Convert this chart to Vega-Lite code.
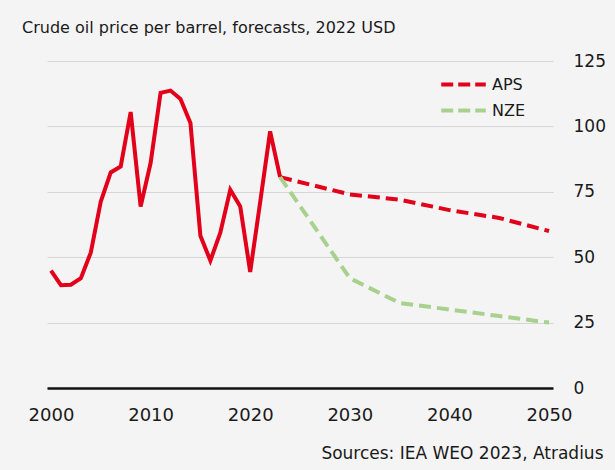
{
  "$schema": "https://vega.github.io/schema/vega-lite/v6.json",
  "width": 506,
  "height": 327,
  "autosize": {"type": "none"},
  "padding": {"left": 47, "top": 61, "right": 62, "bottom": 82},
  "background": "#f4f4f4",
  "title": {
    "text": "Crude oil price per barrel, forecasts, 2022 USD",
    "anchor": "start",
    "frame": "group",
    "dx": -25,
    "offset": 16,
    "font": "DejaVu Sans",
    "fontSize": 16,
    "fontWeight": "normal",
    "color": "#1a1a1a"
  },
  "datasets": {
    "hist": [
      {"year": 2000, "value": 44.9},
      {"year": 2001, "value": 39.3},
      {"year": 2002, "value": 39.5},
      {"year": 2003, "value": 42.0},
      {"year": 2004, "value": 51.8},
      {"year": 2005, "value": 71.3},
      {"year": 2006, "value": 82.4},
      {"year": 2007, "value": 84.7},
      {"year": 2008, "value": 105.5},
      {"year": 2009, "value": 69.4},
      {"year": 2010, "value": 86.0},
      {"year": 2011, "value": 112.8},
      {"year": 2012, "value": 113.7},
      {"year": 2013, "value": 110.5},
      {"year": 2014, "value": 101.3},
      {"year": 2015, "value": 58.2},
      {"year": 2016, "value": 48.7},
      {"year": 2017, "value": 59.4},
      {"year": 2018, "value": 75.8},
      {"year": 2019, "value": 69.4},
      {"year": 2020, "value": 44.4},
      {"year": 2021, "value": 71.0},
      {"year": 2022, "value": 98.1},
      {"year": 2023, "value": 80.6}
    ],
    "fc": [
      {"year": 2023, "value": 80.6, "series": "APS"},
      {"year": 2030, "value": 74.0, "series": "APS"},
      {"year": 2035, "value": 72.0, "series": "APS"},
      {"year": 2040, "value": 68.0, "series": "APS"},
      {"year": 2045, "value": 65.0, "series": "APS"},
      {"year": 2050, "value": 60.0, "series": "APS"},
      {"year": 2023, "value": 80.6, "series": "NZE"},
      {"year": 2030, "value": 42.0, "series": "NZE"},
      {"year": 2035, "value": 32.5, "series": "NZE"},
      {"year": 2040, "value": 30.0, "series": "NZE"},
      {"year": 2045, "value": 27.5, "series": "NZE"},
      {"year": 2050, "value": 25.0, "series": "NZE"}
    ]
  },
  "encoding": {
    "x": {
      "field": "year",
      "type": "quantitative",
      "scale": {"domain": [1999.6, 2050.4], "nice": false, "zero": false},
      "axis": {
        "values": [2000, 2010, 2020, 2030, 2040, 2050],
        "format": "d",
        "grid": false,
        "ticks": false,
        "domain": true,
        "domainColor": "#111111",
        "domainWidth": 2.5,
        "labelFlush": false,
        "labelPadding": 18,
        "labelFont": "DejaVu Sans",
        "labelFontSize": 18,
        "labelColor": "#1a1a1a",
        "title": "Sources: IEA WEO 2023, Atradius",
        "titleFont": "DejaVu Sans",
        "titleFontSize": 17,
        "titleFontWeight": "normal",
        "titleColor": "#1a1a1a",
        "titleAlign": "right",
        "titleBaseline": "middle",
        "titleX": 556,
        "titleY": 65
      }
    },
    "y": {
      "field": "value",
      "type": "quantitative",
      "scale": {"domain": [0, 125], "nice": false},
      "axis": {
        "orient": "right",
        "values": [0, 25, 50, 75, 100, 125],
        "grid": true,
        "gridColor": "#d6d6d6",
        "gridWidth": 1.2,
        "ticks": false,
        "domain": false,
        "labelAlign": "left",
        "labelPadding": 20,
        "labelFont": "DejaVu Sans",
        "labelFontSize": 17,
        "labelColor": "#1a1a1a",
        "title": null
      }
    }
  },
  "layer": [
    {
      "data": {"name": "hist"},
      "mark": {"type": "line", "color": "#e2001a", "strokeWidth": 4, "strokeJoin": "miter", "strokeMiterLimit": 4}
    },
    {
      "data": {"name": "fc"},
      "mark": {"type": "line", "strokeWidth": 4, "strokeDash": [12, 6]},
      "encoding": {
        "color": {
          "field": "series",
          "type": "nominal",
          "scale": {"domain": ["APS", "NZE"], "range": ["#e2001a", "#a8d18e"]},
          "legend": {
            "title": null,
            "orient": "none",
            "legendX": 401,
            "legendY": 8,
            "symbolType": "M-1.65,0H1.65",
            "symbolSize": 729,
            "symbolStrokeWidth": 4,
            "symbolDash": [12, 5],
            "symbolFillColor": "transparent",
            "labelFont": "DejaVu Sans",
            "labelFontSize": 16,
            "labelColor": "#1a1a1a",
            "rowPadding": 2,
            "labelOffset": 13,
            "padding": 0
          }
        }
      }
    }
  ],
  "config": {
    "view": {"stroke": null}
  }
}
